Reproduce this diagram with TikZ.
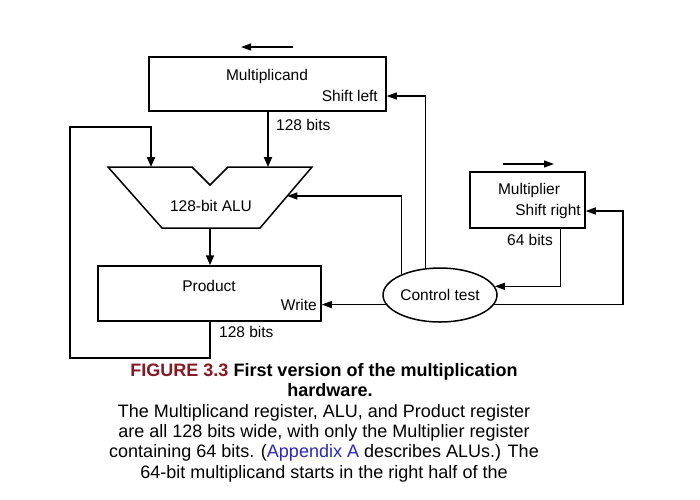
\documentclass[tikz,border=0pt]{standalone}
\usepackage{fontspec}
\setmainfont{Liberation Sans}
\usepackage{xcolor}
\usepackage{tikz}
\usetikzlibrary{shapes.geometric, arrows.meta, positioning, calc}
\definecolor{figred}{RGB}{135,25,35}
\definecolor{refblue}{RGB}{40,40,180}
\newcommand{\lblfont}{\fontsize{15.5}{18}\selectfont}
\tikzset{
  register/.style={rectangle, draw=black, line width=1.5pt, inner sep=0pt},
  ctrlunit/.style={ellipse, draw=black, line width=1.5pt, inner sep=0pt, font=\lblfont},
  lbl/.style={inner sep=0pt, font=\lblfont},
  alubody/.style={draw=black, line width=1.5pt, line join=miter},
  datapath/.style={-{Triangle[length=10pt,width=8pt]}, line width=2pt},
  ctrlline/.style={-{Triangle[length=10pt,width=7pt]}, line width=1.1pt},
  caption/.style={align=center, inner sep=0pt, font=\fontsize{18}{20.4}\selectfont},
}

\begin{document}
\begin{tikzpicture}[x=1pt, y=-1pt]
\useasboundingbox (0,0) rectangle (700,499);
% registers
\node[register, minimum width=237pt, minimum height=54pt] (mcand) at (267.5,84) {};
\node[register, minimum width=115pt, minimum height=56pt] (mplier) at (527.5,200) {};
\node[register, minimum width=223pt, minimum height=55pt] (prod) at (209.5,293.5) {};
\node[ctrlunit, minimum width=114pt, minimum height=54pt] (ctrl) at (440,295) {Control test};
\node[lbl] (mcandtxt) at (267,76) {Multiplicand};
\node[lbl, anchor=east] (shl) at (378,96) {Shift left};
\node[lbl] (mpliertxt) at (529,190) {Multiplier};
\node[lbl, anchor=east] (shr) at (581,211) {Shift right};
\node[lbl] (prodtxt) at (209,286) {Product};
\node[lbl, anchor=east] (wr) at (317,305) {Write};
% ALU outline
\coordinate (alu-tl) at (108,167);
\coordinate (alu-n1) at (192,167);
\coordinate (alu-v) at (210,185);
\coordinate (alu-n2) at (228,167);
\coordinate (alu-tr) at (312,167);
\coordinate (alu-br) at (260,228);
\coordinate (alu-bl) at (162,228);
\draw[alubody] (alu-tl) -- (alu-n1) -- (alu-v) -- (alu-n2) -- (alu-tr) -- (alu-br) -- (alu-bl) -- cycle;
\node[lbl] (alutxt) at (211,206) {128-bit ALU};
\coordinate (alu-inl) at (151,167);
\coordinate (alu-inr) at (268,167);
\coordinate (alu-out) at (210,228);
\coordinate (alu-r) at ($(alu-tr)!0.475!(alu-br)$);
% widths
\node[lbl, anchor=west] (w128a) at (276,125) {128 bits};
\node[lbl, anchor=west] (w128b) at (219,332) {128 bits};
\node[lbl, anchor=east] (w64) at (553,240) {64 bits};
% shift direction marks
\coordinate (shl-a) at (293,47);
\coordinate (shl-b) at (241,47);
\coordinate (shr-a) at (503,164);
\coordinate (shr-b) at (554,164);
\draw[ctrlline] (shl-a) -- (shl-b);
\draw[ctrlline] (shr-a) -- (shr-b);
% data paths
\coordinate (loop-b) at (70,358);
\coordinate (loop-t) at (70,127);
\draw[datapath] (mcand.south -| alu-inr) -- (alu-inr);
\draw[datapath] (alu-out) -- (alu-out |- prod.north);
\draw[datapath] (prod.south) |- (loop-b) -- (loop-t) -| (alu-inl);
% control lines
\coordinate (mcand-sl) at ([yshift=-12pt]mcand.east);
\coordinate (mplier-sr) at ([yshift=-11pt]mplier.east);
\coordinate (mplier-out) at ([xshift=33pt]mplier.south);
\coordinate (rt) at (623,211);
\draw[ctrlline] (ctrl.152) |- (alu-r);
\draw[ctrlline] (ctrl.118) |- (mcand-sl);
\draw[ctrlline] (ctrl.190.7) -- (ctrl.190.7 -| prod.east);
\draw[ctrlline] (mplier-out) |- (ctrl.9.5);
\draw[ctrlline] (ctrl.-10.7) -| (rt) -- (mplier-sr);
% caption
\node[caption, anchor=north] (cap) at (324,363) {{\color{figred}\textbf{FIGURE 3.3}} \textbf{First version of the multiplication}\\ \hspace*{12pt}\textbf{hardware.}\\ The Multiplicand register, ALU, and Product register\\ are all 128 bits wide, with only the Multiplier register\\ containing 64 bits. ({\color{refblue}Appendix A} describes ALUs.) The\\ 64-bit multiplicand starts in the right half of the};
\end{tikzpicture}
\end{document}
